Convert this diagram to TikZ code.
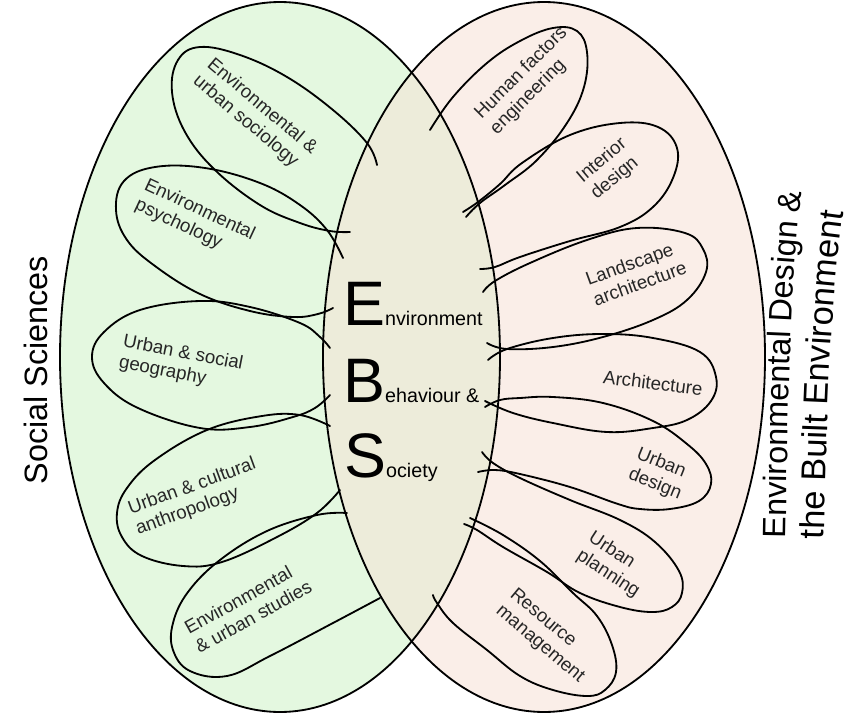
\documentclass[tikz,border=0pt]{standalone}
\usepackage{fontspec}
\setmainfont{Liberation Sans}
\usetikzlibrary{decorations.text}
\definecolor{socgreen}{RGB}{228,248,224}
\definecolor{designpink}{RGB}{250,238,232}
\definecolor{ebsbeige}{RGB}{237,236,218}
\newcommand{\bigletter}{\fontsize{44.7}{50}\selectfont}
\newcommand{\smallword}{\fontsize{14}{16}\selectfont}
\newcommand{\titlefont}{\fontsize{23}{27}\selectfont}

\begin{document}
\begin{tikzpicture}[x=0.025cm,y=-0.025cm,
    field/.style={line width=1.3pt},
    petal/.style={line width=1.3pt,line cap=round},
    plabel/.style={font=\fontsize{13.3}{15.5}\selectfont,align=left,text=black!85,inner sep=1pt},
    ebs/.style={anchor=base west,inner sep=0pt}]
\useasboundingbox (0,0) rectangle (858,717);
% the two fields and their overlap
\fill[socgreen] (280,357) ellipse [x radius=220,y radius=355];
\fill[designpink] (544,357) ellipse [x radius=221,y radius=355];
\begin{scope}
  \clip (280,357) ellipse [x radius=220,y radius=355];
  \fill[ebsbeige] (544,357) ellipse [x radius=221,y radius=355];
\end{scope}
\draw[field] (280,357) ellipse [x radius=220,y radius=355];
\draw[field] (544,357) ellipse [x radius=221,y radius=355];

% petals, social sciences side
\draw[petal] plot[smooth,tension=0.65] coordinates {(377,165) (367,143) (333,110) (287,77) (240,55) (200,47) (178,60) (172,92) (185,132) (215,170) (260,205) (300,223) (330,231) (350,232)};
\draw[petal] plot[smooth,tension=0.65] coordinates {(343,258) (327,230) (300,205) (260,183) (205,168) (155,167) (124,181) (116,210) (127,240) (155,266) (200,294) (250,311) (293,317) (318,314) (333,308)};
\draw[petal] plot[smooth,tension=0.65] coordinates {(330,348) (320,337) (300,323) (250,307) (200,301) (140,310) (104,332) (92,357) (104,383) (138,408) (200,428) (250,427) (293,417) (315,408) (330,395)};
\draw[petal] plot[smooth,tension=0.65] coordinates {(330,426) (300,415) (262,416) (207,430) (155,460) (127,488) (117,513) (122,537) (142,556) (183,566) (222,562) (277,537) (317,513) (340,490)};
\draw[petal] plot[smooth,tension=0.65] coordinates {(347,513) (317,515) (267,531) (220,560) (188,592) (173,623) (173,650) (190,671) (227,676) (270,656) (333,623) (380,598)};

% petals, design side
\draw[petal] plot[smooth,tension=0.65] coordinates {(430,130) (453,97) (487,63) (520,41) (553,28) (577,31) (587,52) (584,87) (567,123) (537,160) (505,185) (480,203) (466,217)};
\draw[petal] plot[smooth,tension=0.65] coordinates {(463,212) (478,202) (500,184) (522,163) (570,135) (620,123) (658,127) (677,148) (673,178) (653,207) (620,227) (570,241) (520,257) (495,267) (480,269)};
\draw[petal] plot[smooth,tension=0.65] coordinates {(483,292) (495,281) (530,263) (587,240) (637,228) (685,233) (703,249) (706,272) (687,300) (653,320) (603,337) (553,347) (507,349) (487,343)};
\draw[petal] plot[smooth,tension=0.65] coordinates {(488,360) (507,349) (553,338) (603,334) (653,338) (700,352) (716,377) (711,401) (687,420) (653,428) (607,432) (553,423) (513,413) (485,401)};
\draw[petal] plot[smooth,tension=0.65] coordinates {(485,407) (500,400) (520,398) (553,397) (603,403) (653,421) (687,444) (706,464) (711,484) (699,501) (670,509) (640,509) (618,504) (570,487) (520,474) (495,470) (478,472)};
\draw[petal] plot[smooth,tension=0.65] coordinates {(482,452) (493,463) (520,478) (570,500) (620,520) (655,542) (679,571) (682,593) (672,607) (652,612) (620,607) (580,593) (547,572) (503,547) (477,530) (464,524)};
\draw[petal] plot[smooth,tension=0.65] coordinates {(470,518) (503,535) (540,561) (573,593) (597,616) (612,645) (616,672) (605,690) (587,696) (553,690) (520,676) (487,650) (453,623) (437,603) (433,595)};

% petal labels
\node[plabel,rotate=-40] (socio) at (255,115) {Environmental \&\\urban sociology};
\node[plabel,rotate=-25] (psych) at (195,220) {Environmental\\psychology};
\node[plabel,rotate=-11] (geo) at (181,364) {Urban \& social\\geography};
\node[plabel,rotate=20] (anthro) at (196,497) {Urban \& cultural\\anthropology};
\node[plabel,rotate=29] (studies) at (248,607) {Environmental\\\& urban studies};
\node[plabel,rotate=45] (human) at (529,81) {Human factors\\engineering};
\node[plabel,rotate=40] (interior) at (609,169) {Interior\\design};
\node[plabel,rotate=20] (landscape) at (636,273) {Landscape\\architecture};
\node[plabel,rotate=-7] (archi) at (653,383) {Architecture};
\node[plabel,rotate=-22] (udesign) at (659,474) {Urban\\design};
\node[plabel,rotate=-33] (uplanning) at (614,565) {Urban\\planning};
\node[plabel,rotate=-40] (resource) at (547,636) {Resource\\management};

% the overlap
\node[ebs] (env) at (343,325) {\bigletter E\smallword nvironment};
\node[ebs] (beh) at (343,402) {\bigletter B\smallword ehaviour \&};
\node[ebs] (soc) at (344,477) {\bigletter S\smallword ociety};

% field titles
\node[rotate=90,font=\titlefont] (social) at (36,370) {Social Sciences};
\begin{scope}[x=1cm,y=1cm]
  \path[decorate,decoration={text along path,text align=center,
      text={|\titlefont|Environmental Design {\&}}}]
    (19.625,-14.375) .. controls (19.7,-9.875) and (19.75,-6.625) .. (20.15,-3.875);
  \path[decorate,decoration={text along path,text align=center,
      text={|\fontsize{24.5}{29}\selectfont|the Built Environment}}]
    (20.575,-14.275) .. controls (20.675,-10.025) and (20.75,-7.275) .. (21.2,-4.525);
\end{scope}
\end{tikzpicture}
\end{document}
